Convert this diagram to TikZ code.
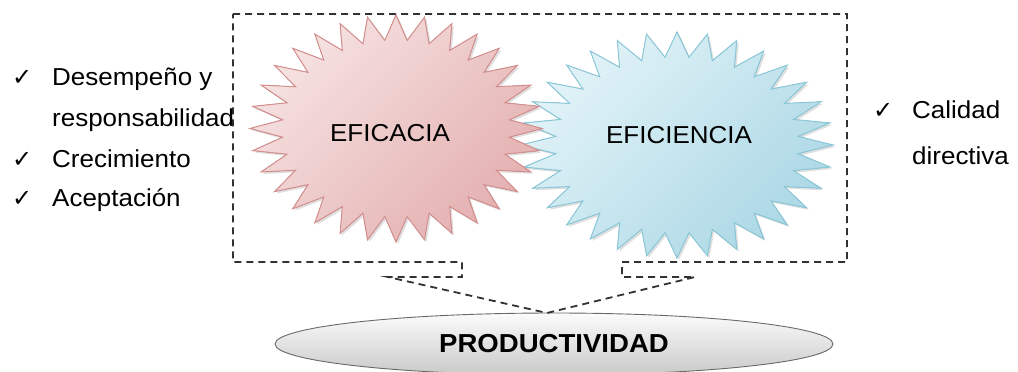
\documentclass[tikz,border=0pt]{standalone}
\usepackage{fontspec}
\setmainfont{Liberation Sans}[FakeStretch=1.06]
\newfontfamily\symfont{DejaVu Sans}
\usetikzlibrary{shapes.geometric,shadows}
\definecolor{redlight}{RGB}{246,226,226}
\definecolor{reddark}{RGB}{228,176,176}
\definecolor{redline}{RGB}{212,142,142}
\definecolor{bluelight}{RGB}{226,243,248}
\definecolor{bluedark}{RGB}{172,216,229}
\definecolor{blueline}{RGB}{138,200,217}
\definecolor{dashgray}{RGB}{50,50,50}
\definecolor{ellline}{RGB}{105,105,105}
\tikzset{
  lbl/.style={font=\fontsize{24.5}{29}\selectfont, inner sep=0pt, anchor=base west},
  chk/.style={font=\symfont\bfseries\fontsize{24}{28}\selectfont, inner sep=0pt, anchor=base west},
  startxt/.style={font=\fontsize{24.5}{29}\selectfont, inner sep=0pt, anchor=base},
  outline/.style={draw=dashgray, line width=1.8pt, dash pattern=on 7pt off 5pt, line join=miter},
  redstar/.style={draw=redline, line width=1pt, top color=redlight, bottom color=reddark, shading angle=45,
    drop shadow={shadow xshift=2pt, shadow yshift=-2pt, opacity=0.25}},
  bluestar/.style={draw=blueline, line width=1pt, top color=bluelight, bottom color=bluedark, shading angle=45,
    drop shadow={shadow xshift=2pt, shadow yshift=-2pt, opacity=0.25}},
  prodbox/.style={ellipse, draw=ellline, line width=0.9pt, top color=white!97!gray, bottom color=gray!42,
    minimum width=558pt, minimum height=62pt, inner sep=0pt, font=\bfseries\fontsize{26}{30}\selectfont},
}
\begin{document}
\begin{tikzpicture}[x=1pt,y=-1pt]
\useasboundingbox (0,0) rectangle (1018,372);

% ellipse (PRODUCTIVIDAD)
\node[prodbox] (prod) at (554,344) {PRODUCTIVIDAD};

% dashed callout outline
\coordinate (apex) at (547,313);
\draw[outline] (233,14) -- (847,14) -- (847,262) -- (622,262) -- (622,277) -- (695,277)
   -- (apex) -- (388,277) -- (462,277) -- (462,262) -- (233,262) -- cycle;

% blue star (EFICIENCIA)
\filldraw[bluestar] plot[domain=0:63, samples=64, variable=\k]
  ({677+156*(1-0.22*mod(round(\k),2))*cos(\k*5.625)}, {145+113*(1-0.22*mod(round(\k),2))*sin(\k*5.625)}) -- cycle;
% red star (EFICACIA)
\filldraw[redstar] plot[domain=0:63, samples=64, variable=\k]
  ({396+146*(1-0.22*mod(round(\k),2))*cos(\k*5.625)}, {128.5+113.5*(1-0.22*mod(round(\k),2))*sin(\k*5.625)}) -- cycle;

\node[startxt] (eficacia) at (390,141) {EFICACIA};
\node[startxt] (eficiencia) at (679,143) {EFICIENCIA};

% left list
\node[chk] (c1) at (12,85) {✓};
\node[lbl] (t1) at (52,85) {Desempeño y};
\node[lbl] (t2) at (52,126) {responsabilidad};
\node[chk] (c3) at (12,167) {✓};
\node[lbl] (t3) at (52,167) {Crecimiento};
\node[chk] (c4) at (12,206) {✓};
\node[lbl] (t4) at (52,206) {Aceptación};

% right list
\node[chk] (c5) at (873,118) {✓};
\node[lbl] (t5) at (912,118) {Calidad};
\node[lbl] (t6) at (912,164) {directiva};
\end{tikzpicture}
\end{document}
